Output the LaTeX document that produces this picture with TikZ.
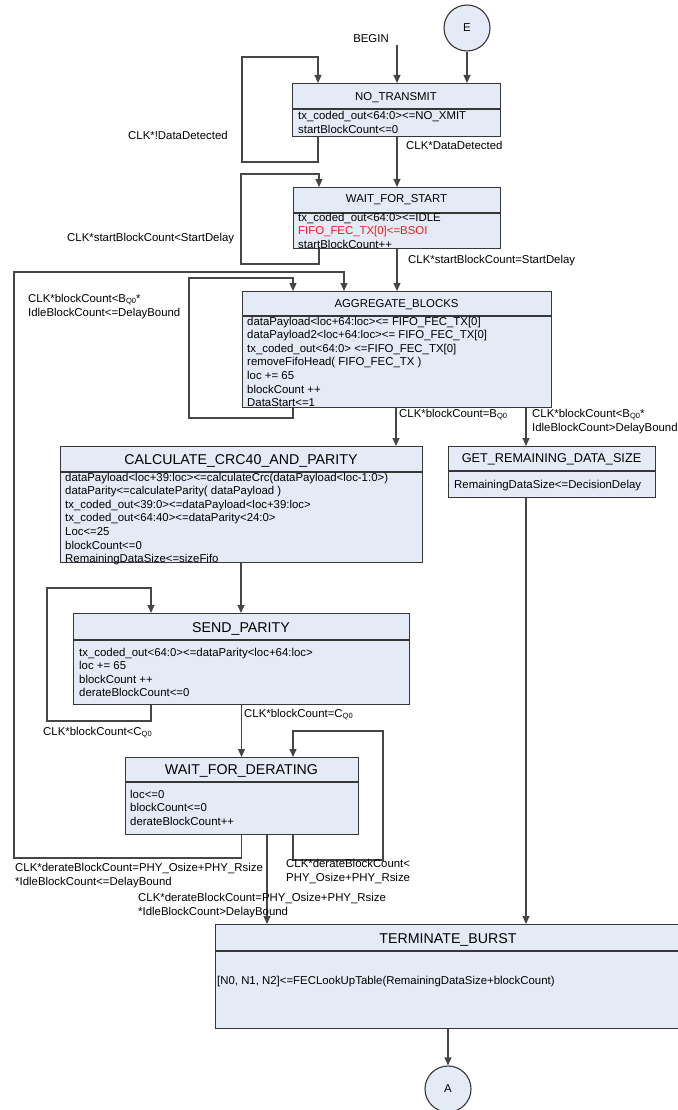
\documentclass[tikz,border=0pt]{standalone}
\usepackage{fontspec}
\setmainfont{Liberation Sans}
\usetikzlibrary{arrows.meta}
\definecolor{statefill}{RGB}{228,234,246}
\definecolor{wire}{RGB}{70,70,70}
\definecolor{frame}{RGB}{55,55,55}
\definecolor{hot}{RGB}{235,30,30}
\newcommand\qsub[1]{\raisebox{-1.8pt}{\fontsize{7.5}{8}\selectfont #1}}
\newcommand\bodyfont{\fontsize{11.4}{13.6}\selectfont}
\newcommand\lblfont{\fontsize{11.4}{14.6}\selectfont}
\newcommand\bigfont{\fontsize{14.2}{16}\selectfont}
\newcommand\midfont{\fontsize{12.7}{15}\selectfont}
\begin{document}
% multi-line text nodes are placed by the baseline of their last line
\begin{tikzpicture}[x=1pt,y=-1pt,
  state/.style={draw=frame, line width=1.1pt, fill=statefill, inner sep=0pt, anchor=north west},
  divider/.style={draw=frame, line width=1.1pt},
  ttl/.style={font=\bodyfont, inner sep=0pt, anchor=base},
  bigttl/.style={font=\bigfont, inner sep=0pt, anchor=base},
  body/.style={font=\bodyfont, inner sep=0pt, anchor=base west, align=left},
  lbl/.style={font=\lblfont, inner sep=0pt, anchor=base west, align=left},
  conn/.style={draw=wire, line width=1.1pt},
  arr/.style={conn, -{Triangle[length=8pt,width=7pt]}},
  connector/.style={draw=frame, line width=1.1pt, fill=statefill, circle, minimum size=46pt, inner sep=0pt, font=\bodyfont}]
\useasboundingbox (0,0) rectangle (677,1110);

% ---------- states ----------
\node[state, minimum width=208pt, minimum height=53pt] (nt) at (292,83) {};
\draw[divider] ([yshift=-26pt]nt.north west) -- ([yshift=-26pt]nt.north east);
\node[ttl] (ntT) at (396,101) {NO\_TRANSMIT};
\node[body] (ntB) at (298,133.6) {tx\_coded\_out<64:0><=NO\_XMIT\\startBlockCount<=0};

\node[state, minimum width=207pt, minimum height=61pt] (ws) at (293,187) {};
\draw[divider] ([yshift=-26pt]ws.north west) -- ([yshift=-26pt]ws.north east);
\node[ttl] (wsT) at (396.5,203) {WAIT\_FOR\_START};
\node[body] (wsB) at (298,248.2) {tx\_coded\_out<64:0><=IDLE\\{\color{hot}FIFO\_FEC\_TX[0]<=BSOI}\\startBlockCount++};

\node[state, minimum width=309pt, minimum height=116pt] (ag) at (242,291) {};
\draw[divider] ([yshift=-25pt]ag.north west) -- ([yshift=-25pt]ag.north east);
\node[ttl] (agT) at (396.5,307) {AGGREGATE\_BLOCKS};
\node[body] (agB) at (247,406.6) {dataPayload<loc+64:loc><= FIFO\_FEC\_TX[0]\\dataPayload2<loc+64:loc><= FIFO\_FEC\_TX[0]\\tx\_coded\_out<64:0> <=FIFO\_FEC\_TX[0]\\removeFifoHead( FIFO\_FEC\_TX )\\loc += 65\\blockCount ++\\DataStart<=1};

\node[state, minimum width=362pt, minimum height=116pt] (cc) at (60,446) {};
\draw[divider] ([yshift=-26pt]cc.north west) -- ([yshift=-26pt]cc.north east);
\node[bigttl] (ccT) at (241,464) {CALCULATE\_CRC40\_AND\_PARITY};
\node[body] (ccB) at (65,562.6) {dataPayload<loc+39:loc><=calculateCrc(dataPayload<loc-1:0>)\\dataParity<=calculateParity( dataPayload )\\tx\_coded\_out<39:0><=dataPayload<loc+39:loc>\\tx\_coded\_out<64:40><=dataParity<24:0>\\Loc<=25\\blockCount<=0\\RemainingDataSize<=sizeFifo};

\node[state, minimum width=207pt, minimum height=51pt] (gr) at (448,446) {};
\draw[divider] ([yshift=-25pt]gr.north west) -- ([yshift=-25pt]gr.north east);
\node[font=\midfont, inner sep=0pt, anchor=base] (grT) at (551.5,462.5) {GET\_REMAINING\_DATA\_SIZE};
\node[body] (grB) at (454,488) {RemainingDataSize<=DecisionDelay};

\node[state, minimum width=336pt, minimum height=91pt] (sp) at (73,613) {};
\draw[divider] ([yshift=-27pt]sp.north west) -- ([yshift=-27pt]sp.north east);
\node[bigttl] (spT) at (241,632) {SEND\_PARITY};
\node[body] (spB) at (79,696.8) {tx\_coded\_out<64:0><=dataParity<loc+64:loc>\\loc += 65\\blockCount ++\\derateBlockCount<=0};

\node[state, minimum width=233pt, minimum height=77pt] (wd) at (125,757) {};
\draw[divider] ([yshift=-25pt]wd.north west) -- ([yshift=-25pt]wd.north east);
\node[bigttl] (wdT) at (241.5,774) {WAIT\_FOR\_DERATING};
\node[body] (wdB) at (130,825.2) {loc<=0\\blockCount<=0\\derateBlockCount++};

\node[state, minimum width=466pt, minimum height=104pt] (tb) at (215,924) {};
\draw[divider] ([yshift=-27pt]tb.north west) -- ([yshift=-27pt]tb.north east);
\node[bigttl] (tbT) at (448,943) {TERMINATE\_BURST};
\node[body] (tbB) at (217,984) {[N0, N1, N2]<=FECLookUpTable(RemainingDataSize+blockCount)};

% ---------- off-page connectors ----------
\node[connector] (E) at (467,28) {E};
\node[connector] (A) at (448,1089) {A};

% ---------- entry ----------
\node[ttl] (begin) at (371,43) {BEGIN};
\coordinate (beginpt) at (397,45);
\draw[arr] (beginpt) -- (nt.north -| beginpt);
\draw[arr] (E) -- (nt.north -| E);

% ---------- transitions ----------
\draw[arr] (nt.south -| 318,0) -- (318,162) -- (242,162) -- (242,57) -- (318,57) -- (nt.north -| 318,0);
\node[lbl] (l1) at (128,140) {CLK*!DataDetected};

\draw[arr] (nt.south -| 397,0) -- (ws.north -| 397,0);
\node[lbl] (l2) at (406,150) {CLK*DataDetected};

\draw[arr] (ws.south -| 319,0) -- (319,264) -- (241,264) -- (241,174) -- (319,174) -- (ws.north -| 319,0);
\node[lbl] (l3) at (67,241) {CLK*startBlockCount<StartDelay};

\draw[arr] (ws.south -| 397,0) -- (ag.north -| 397,0);
\node[lbl] (l4) at (408,263) {CLK*startBlockCount=StartDelay};

\draw[arr] (ag.south -| 293,0) -- (293,418) -- (189,418) -- (189,278) -- (293,278) -- (ag.north -| 293,0);
\node[lbl] (l5) at (28,316.6) {CLK*blockCount<B\qsub{Q0}*\\IdleBlockCount<=DelayBound};

\draw[arr] (wd.south -| 241.5,0) -- (241.5,858) -- (14,858) -- (14,272) -- (344,272) -- (ag.north -| 344,0);
\node[lbl] (l6) at (15,885.6) {CLK*derateBlockCount=PHY\_Osize+PHY\_Rsize\\{}*IdleBlockCount<=DelayBound};

\draw[arr] (ag.south -| 396,0) -- (cc.north -| 396,0);
\node[lbl] (l7) at (399,417) {CLK*blockCount=B\qsub{Q0}};

\draw[arr] (ag.south -| 526,0) -- (gr.north -| 526,0);
\node[lbl] (l8) at (532,431.6) {CLK*blockCount<B\qsub{Q0}*\\IdleBlockCount>DelayBound};

\draw[arr] (cc.south -| 241,0) -- (sp.north -| 241,0);

\draw[arr] (sp.south -| 151,0) -- (151,721) -- (47,721) -- (47,588) -- (151,588) -- (sp.north -| 151,0);
\node[lbl] (l9) at (43,735) {CLK*blockCount<C\qsub{Q0}};

\draw[arr] (sp.south -| 241.5,0) -- (wd.north -| 241.5,0);
\node[lbl] (l10) at (244,717) {CLK*blockCount=C\qsub{Q0}};

\draw[arr] (wd.south -| 293,0) -- (293,860) -- (383,860) -- (383,731) -- (293,731) -- (wd.north -| 293,0);
\node[lbl] (l11) at (286,881.6) {CLK*derateBlockCount<\\PHY\_Osize+PHY\_Rsize};

\draw[arr] (wd.south -| 267,0) -- (tb.north -| 267,0);
\node[lbl] (l12) at (138,915.6) {CLK*derateBlockCount=PHY\_Osize+PHY\_Rsize\\{}*IdleBlockCount>DelayBound};

\draw[arr] (gr.south -| 526,0) -- (tb.north -| 526,0);

\draw[arr] (tb.south -| A) -- (A);
\end{tikzpicture}
\end{document}
